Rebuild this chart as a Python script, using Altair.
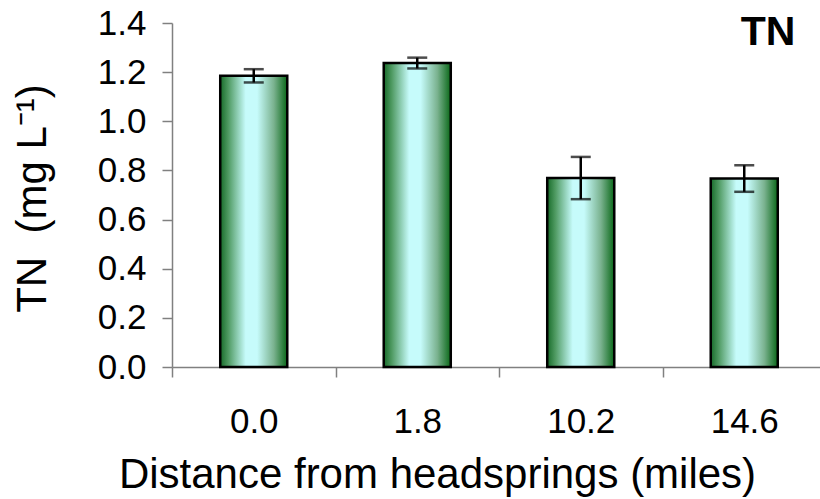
import altair as alt
import pandas as pd

distances = ["0.0", "1.8", "10.2", "14.6"]
tn_means = [1.185, 1.237, 0.769, 0.767]
tn_errors = [0.027, 0.022, 0.086, 0.054]

df = pd.DataFrame({"dist": distances, "mean": tn_means, "err": tn_errors})
df["lo"] = df["mean"] - df["err"]
df["hi"] = df["mean"] + df["err"]

FONT = "Liberation Sans"

grad = alt.Gradient(
    gradient="linear",
    stops=[
        alt.GradientStop(color="#176b29", offset=0),
        alt.GradientStop(color="#4f9a62", offset=0.12),
        alt.GradientStop(color="#c6fbfb", offset=0.38),
        alt.GradientStop(color="#c6fbfb", offset=0.55),
        alt.GradientStop(color="#7ab28f", offset=0.8),
        alt.GradientStop(color="#0a6818", offset=1),
    ],
    x1=0, x2=1, y1=0, y2=0,
)

x_scale = alt.Scale(paddingInner=0, paddingOuter=0, range=[0, 654])

x_enc = alt.X(
    "dist:N",
    sort=distances,
    scale=x_scale,
    axis=alt.Axis(
        title="Distance from headsprings (miles)",
        labelAngle=0,
        labelFontSize=35,
        labelFont=FONT,
        labelColor="black",
        labelBaseline="alphabetic",
        labelPadding=55,
        tickBand="extent",
        tickSize=10,
        tickColor="#808080",
        domainColor="#808080",
        domainWidth=1.5,
        tickWidth=1.5,
        titleFontSize=42,
        titleFont=FONT,
        titleFontWeight="normal",
        titleColor="black",
        titleBaseline="alphabetic",
        titleX=265,
        titleY=120,
    ),
)

y_enc = alt.Y(
    "mean:Q",
    scale=alt.Scale(domain=[0, 1.4], nice=False),
    axis=alt.Axis(
        title="TN\u00a0 (mg L⁻¹)",
        values=[0, 0.2, 0.4, 0.6, 0.8, 1.0, 1.2, 1.4],
        format=".1f",
        labelFontSize=35,
        labelFont=FONT,
        labelColor="black",
        labelPadding=16,
        tickSize=10,
        tickColor="#808080",
        domainColor="#808080",
        domainWidth=1.5,
        tickWidth=1.5,
        grid=False,
        titleFontSize=42,
        titleFont=FONT,
        titleFontWeight="normal",
        titleColor="black",
        titleBaseline="alphabetic",
        titleX=-127,
        titleY=175,
    ),
)

bars = alt.Chart(df).mark_bar(
    color=grad, stroke="black", strokeWidth=2.5, width=alt.RelativeBandSize(0.41)
).encode(x=x_enc, y=y_enc)

rules = alt.Chart(df).mark_rule(color="black", strokeWidth=2.5).encode(
    x=alt.X("dist:N", sort=distances, scale=x_scale), y="lo:Q", y2="hi:Q"
)
caps_hi = alt.Chart(df).mark_tick(color="black", size=20, thickness=2.5).encode(
    x=alt.X("dist:N", sort=distances, scale=x_scale), y="hi:Q"
)
caps_lo = alt.Chart(df).mark_tick(color="black", size=20, thickness=2.5).encode(
    x=alt.X("dist:N", sort=distances, scale=x_scale), y="lo:Q"
)

label = alt.Chart(pd.DataFrame({"t": ["TN"]})).mark_text(
    font=FONT, fontSize=41, fontWeight="bold", color="black",
    align="center", baseline="alphabetic",
).encode(text="t:N", x=alt.value(596), y=alt.value(22))

chart = (
    alt.layer(bars, rules, caps_hi, caps_lo, label)
    .properties(
        width=648,
        height=344,
        autosize=alt.AutoSizeParams(type="none"),
        padding={"left": 172, "top": 23, "right": 0, "bottom": 132},
        background="white",
    )
    .configure_view(stroke=None)
)

chart.save("out.html", embed_options={"renderer": "svg", "actions": False})
